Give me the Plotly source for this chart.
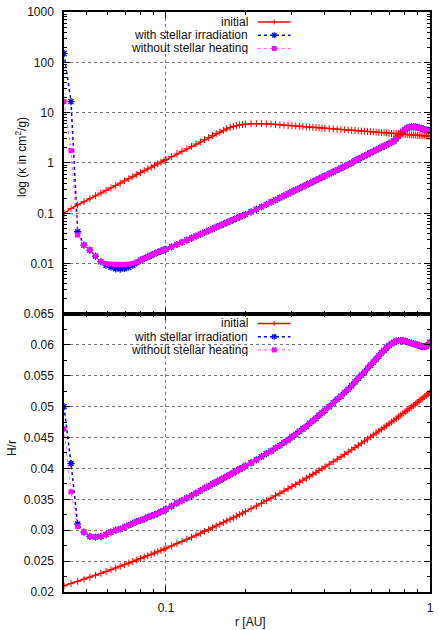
import plotly.graph_objects as go

# ---------------- data ----------------
R_AU = [0.0411, 0.0437, 0.0463, 0.0489, 0.0515, 0.0541, 0.0567, 0.0593, 0.0619, 0.0645,
        0.0671, 0.0697, 0.0723, 0.0749, 0.0775, 0.0801, 0.0827, 0.0853, 0.0879, 0.0905,
        0.0931, 0.0957, 0.0983,
        0.100, 0.105, 0.110, 0.115, 0.120, 0.125, 0.130, 0.135, 0.140, 0.145,
        0.150, 0.155, 0.160, 0.165, 0.170, 0.175, 0.180, 0.185, 0.190, 0.195,
        0.20, 0.21, 0.22, 0.23, 0.24, 0.25, 0.26, 0.27, 0.28, 0.29,
        0.30, 0.31, 0.32, 0.33, 0.34, 0.35, 0.36, 0.37, 0.38, 0.39,
        0.400, 0.415, 0.430, 0.445, 0.460, 0.475, 0.490, 0.505, 0.520, 0.535,
        0.550, 0.565, 0.580, 0.595, 0.610, 0.625, 0.640, 0.655, 0.670, 0.685,
        0.700, 0.715, 0.730, 0.745, 0.760, 0.775, 0.790, 0.805, 0.820, 0.835,
        0.850, 0.865, 0.880, 0.895, 0.910, 0.925, 0.940, 0.955, 0.970, 0.985, 1.000]

KAPPA_INITIAL = [0.100, 0.125, 0.146, 0.170, 0.195, 0.223, 0.253, 0.285, 0.320, 0.358,
                 0.398, 0.441, 0.487, 0.536, 0.588, 0.643, 0.700, 0.762, 0.826, 0.894,
                 0.965, 1.039, 1.117,
                 1.17, 1.335, 1.513, 1.706, 1.914, 2.137, 2.376, 2.631, 2.902, 3.19,
                 3.497, 3.82, 4.12, 4.45, 4.78, 5.08, 5.33, 5.53, 5.70, 5.82,
                 5.91, 6.00, 6.04, 6.04, 6.00, 5.93, 5.84, 5.73, 5.65, 5.57,
                 5.50, 5.42, 5.36, 5.29, 5.23, 5.17, 5.11, 5.05, 5.00, 4.95,
                 4.90, 4.83, 4.76, 4.69, 4.63, 4.57, 4.52, 4.46, 4.41, 4.36,
                 4.31, 4.27, 4.22, 4.18, 4.14, 4.10, 4.06, 4.02, 3.99, 3.95,
                 3.92, 3.88, 3.85, 3.82, 3.79, 3.76, 3.73, 3.70, 3.68, 3.65,
                 3.62, 3.60, 3.57, 3.55, 3.53, 3.50, 3.48, 3.46, 3.44, 3.42, 3.40]

KAPPA_IRRADIATION = [150.0, 16.6, 0.043, 0.0234, 0.0186, 0.0141, 0.0109, 0.0093, 0.0085, 0.0079,
                     0.0078, 0.0080, 0.0085, 0.0093, 0.0104, 0.0117, 0.0126, 0.0136, 0.0146, 0.0157,
                     0.0168, 0.0178, 0.0188,
                     0.0193, 0.0216, 0.0240, 0.0266, 0.0294, 0.0322, 0.0353, 0.0385, 0.0418, 0.0454,
                     0.0490, 0.0529, 0.0569, 0.0611, 0.0654, 0.0699, 0.0746, 0.0794, 0.0845, 0.0897,
                     0.0951, 0.107, 0.120, 0.135, 0.150, 0.167, 0.184, 0.203, 0.223, 0.244,
                     0.266, 0.289, 0.313, 0.339, 0.366, 0.394, 0.423, 0.454, 0.486, 0.519,
                     0.553, 0.608, 0.665, 0.726, 0.790, 0.858, 0.928, 1.003, 1.11, 1.20,
                     1.29, 1.38, 1.48, 1.59, 1.69, 1.81, 1.92, 2.05, 2.17, 2.30,
                     2.44, 2.58, 2.73, 3.05, 3.45, 3.90, 4.25, 4.60, 4.95, 5.10,
                     5.20, 5.24, 5.22, 5.15, 5.03, 4.88, 4.74, 4.62, 4.52, 4.45, 4.40]

KAPPA_NO_HEATING = [16.6, 1.76, 0.037, 0.0234, 0.0186, 0.0141, 0.0110, 0.0100, 0.0098, 0.0097,
                    0.0097, 0.0097, 0.0098, 0.0101, 0.0108, 0.0117, 0.0126, 0.0136, 0.0146, 0.0157,
                    0.0168, 0.0178, 0.0188,
                    0.0193, 0.0216, 0.0240, 0.0266, 0.0294, 0.0322, 0.0353, 0.0385, 0.0418, 0.0454,
                    0.0490, 0.0529, 0.0569, 0.0611, 0.0654, 0.0699, 0.0746, 0.0794, 0.0845, 0.0897,
                    0.0951, 0.107, 0.120, 0.135, 0.150, 0.167, 0.184, 0.203, 0.223, 0.244,
                    0.266, 0.289, 0.313, 0.339, 0.366, 0.394, 0.423, 0.454, 0.486, 0.519,
                    0.553, 0.608, 0.665, 0.726, 0.790, 0.858, 0.928, 1.003, 1.11, 1.20,
                    1.29, 1.38, 1.48, 1.59, 1.69, 1.81, 1.92, 2.05, 2.17, 2.30,
                    2.44, 2.58, 2.73, 3.05, 3.45, 3.90, 4.25, 4.60, 4.95, 5.10,
                    5.20, 5.24, 5.22, 5.15, 5.03, 4.88, 4.74, 4.62, 4.52, 4.45, 4.40]

HR_INITIAL = [0.0210, 0.02137, 0.02172, 0.02206, 0.02239, 0.02271, 0.02302, 0.02331, 0.02360, 0.02388,
              0.02415, 0.02442, 0.02467, 0.02493, 0.02517, 0.02541, 0.02564, 0.02587, 0.02609, 0.02631,
              0.02652, 0.02673, 0.02694,
              0.02707, 0.02745, 0.02782, 0.02817, 0.02852, 0.02885, 0.02918, 0.02950, 0.02981, 0.03010,
              0.03040, 0.03068, 0.03097, 0.03124, 0.03151, 0.03177, 0.03203, 0.03228, 0.03253, 0.03277,
              0.03301, 0.03347, 0.03392, 0.03435, 0.03477, 0.03518, 0.03558, 0.03597, 0.03634, 0.03671,
              0.03706, 0.03741, 0.03775, 0.03809, 0.03842, 0.03874, 0.03905, 0.03936, 0.03966, 0.03995,
              0.04024, 0.04067, 0.04108, 0.04149, 0.04189, 0.04227, 0.04265, 0.04302, 0.04338, 0.04373,
              0.04408, 0.04442, 0.04475, 0.04508, 0.04541, 0.04572, 0.04603, 0.04634, 0.04664, 0.04693,
              0.04723, 0.04751, 0.04780, 0.04807, 0.04835, 0.04862, 0.04889, 0.04916, 0.04941, 0.04967,
              0.04993, 0.05018, 0.05042, 0.05067, 0.05091, 0.05115, 0.05139, 0.05162, 0.05185, 0.05208, 0.0523]

HR_IRRADIATION = [0.0500, 0.0408, 0.0310, 0.0297, 0.0290, 0.0289, 0.0290, 0.0293, 0.0297, 0.0300,
                  0.0302, 0.0305, 0.0308, 0.0311, 0.0314, 0.0316, 0.0318, 0.0321, 0.0323, 0.0325,
                  0.0327, 0.0330, 0.0332,
                  0.0334, 0.0339, 0.0344, 0.0348, 0.0352, 0.0356, 0.0360, 0.0364, 0.0368, 0.0371,
                  0.0375, 0.0378, 0.0381, 0.0384, 0.0387, 0.0390, 0.0393, 0.0396, 0.0399, 0.0401,
                  0.0404, 0.0409, 0.0414, 0.0419, 0.0424, 0.0428, 0.0433, 0.0437, 0.0442, 0.0446,
                  0.0451, 0.0455, 0.0460, 0.0464, 0.0468, 0.0473, 0.0477, 0.0481, 0.0486, 0.0490,
                  0.0494, 0.0500, 0.0506, 0.0512, 0.0517, 0.0523, 0.0528, 0.0534, 0.0540, 0.0546,
                  0.0551, 0.0556, 0.0562, 0.0567, 0.0572, 0.0577, 0.0582, 0.0587, 0.0591, 0.0595,
                  0.0599, 0.0602, 0.0604, 0.0606, 0.0607, 0.0607, 0.0607, 0.0606, 0.0605, 0.0604,
                  0.0603, 0.0602, 0.0601, 0.0600, 0.0599, 0.0598, 0.0597, 0.0597, 0.0598, 0.0600, 0.0604]

HR_NO_HEATING = [0.0464, 0.0362, 0.0306, 0.0297, 0.0290, 0.0289, 0.0290, 0.0293, 0.0297, 0.0300,
                 0.0302, 0.0305, 0.0308, 0.0311, 0.0314, 0.0316, 0.0318, 0.0321, 0.0323, 0.0325,
                 0.0327, 0.0330, 0.0332,
                 0.0334, 0.0339, 0.0344, 0.0348, 0.0352, 0.0356, 0.0360, 0.0364, 0.0368, 0.0371,
                 0.0375, 0.0378, 0.0381, 0.0384, 0.0387, 0.0390, 0.0393, 0.0396, 0.0399, 0.0401,
                 0.0404, 0.0409, 0.0414, 0.0419, 0.0424, 0.0428, 0.0433, 0.0437, 0.0442, 0.0446,
                 0.0451, 0.0455, 0.0460, 0.0464, 0.0468, 0.0473, 0.0477, 0.0481, 0.0486, 0.0490,
                 0.0494, 0.0500, 0.0506, 0.0512, 0.0517, 0.0523, 0.0528, 0.0534, 0.0540, 0.0546,
                 0.0551, 0.0556, 0.0562, 0.0567, 0.0572, 0.0577, 0.0582, 0.0587, 0.0591, 0.0595,
                 0.0599, 0.0602, 0.0604, 0.0606, 0.0607, 0.0607, 0.0607, 0.0606, 0.0605, 0.0604,
                 0.0603, 0.0602, 0.0601, 0.0600, 0.0599, 0.0598, 0.0597, 0.0597, 0.0598, 0.0600, 0.0604]

SERIES_NAMES = ["initial", "with stellar irradiation", "without stellar heating"]

X_TICKS = [0.1, 1]
X_TICK_LABELS = ["0.1", "1"]
X_MINOR = [0.05, 0.06, 0.07, 0.08, 0.09, 0.2, 0.3, 0.4, 0.5, 0.6, 0.7, 0.8, 0.9]

KAPPA_TICKS = [0.01, 0.1, 1, 10, 100, 1000]
KAPPA_TICK_LABELS = ["0.01", "0.1", "1", "10", "100", "1000"]
KAPPA_MINOR = [m * d for d in (0.001, 0.01, 0.1, 1, 10, 100) for m in range(2, 10)]

HR_TICKS = [0.02, 0.025, 0.03, 0.035, 0.04, 0.045, 0.05, 0.055, 0.06, 0.065]
HR_TICK_LABELS = ["0.02", "0.025", "0.03", "0.035", "0.04", "0.045", "0.05", "0.055", "0.06", "0.065"]
HR_MINOR = [0.0225, 0.0275, 0.0325, 0.0375, 0.0425, 0.0475, 0.0525, 0.0575, 0.0625]

# ---------------- styling ----------------
W, H = 439, 630
ML, MR, MT, MB = 64, 5, 10, 38
PW, PH = W - ML - MR, H - MT - MB
SPLIT = 279 / PH

FONT = dict(family="Liberation Sans, Arial, sans-serif", size=12, color="#111111")
RED, BLUE, MAG = "#ff0000", "#0000ff", "#ff00ff"

STYLES = [
    dict(line=dict(color=RED, width=1.5),
         marker=dict(symbol="cross-thin-open", size=5, color=RED, line=dict(color=RED, width=1.0))),
    dict(line=dict(color=BLUE, width=1.5, dash="dot"),
         marker=dict(symbol="asterisk-open", size=6, color=BLUE, line=dict(color=BLUE, width=1.3))),
    dict(line=dict(color="#ff55ff", width=1.0, dash="dot"),
         marker=dict(symbol="square", size=5, color=MAG, line=dict(width=0))),
]


def px(x):
    return (x - ML) / PW


def py(y):
    return (H - MB - y) / PH


fig = go.Figure()

panels = [
    ("x2", "y2", [KAPPA_INITIAL, KAPPA_IRRADIATION, KAPPA_NO_HEATING]),
    ("x", "y", [HR_INITIAL, HR_IRRADIATION, HR_NO_HEATING]),
]
draw_order = [1, 2, 0]
for xa, ya, vals in panels:
    for i in draw_order:
        fig.add_trace(go.Scatter(x=R_AU, y=vals[i], mode="lines+markers", name=SERIES_NAMES[i],
                                 xaxis=xa, yaxis=ya, showlegend=False, cliponaxis=True,
                                 **STYLES[i]))

axis_common = dict(showline=True, linecolor="black", linewidth=1.5, mirror="allticks",
                   ticks="inside", ticklen=6, tickwidth=1, tickcolor="black",
                   showgrid=True, gridcolor="#777777", griddash="dot", gridwidth=1,
                   zeroline=False, tickfont=FONT, tickmode="array")
minor_common = dict(ticks="inside", ticklen=3, tickwidth=1, tickcolor="black", showgrid=False)

xr = [-1.3862, 0]
fig.update_layout(
    width=W, height=H, margin=dict(l=ML, r=MR, t=MT, b=MB),
    paper_bgcolor="white", plot_bgcolor="white", font=FONT, showlegend=False,
    xaxis=dict(axis_common, type="log", range=xr, tickvals=X_TICKS, ticktext=X_TICK_LABELS,
               minor=dict(minor_common, tickvals=X_MINOR), anchor="y", domain=[0, 1],
               ticklabelstandoff=4),
    xaxis2=dict(axis_common, type="log", range=xr, tickvals=X_TICKS, ticktext=X_TICK_LABELS,
                minor=dict(minor_common, tickvals=X_MINOR), anchor="y2", domain=[0, 1],
                showticklabels=False, matches="x"),
    yaxis=dict(axis_common, range=[0.02, 0.065], tickvals=HR_TICKS, ticktext=HR_TICK_LABELS,
               minor=dict(minor_common, tickvals=HR_MINOR), domain=[0, SPLIT], anchor="x",
               ticklabelstandoff=6),
    yaxis2=dict(axis_common, type="log", range=[-3, 3], tickvals=KAPPA_TICKS,
                ticktext=KAPPA_TICK_LABELS, minor=dict(minor_common, tickvals=KAPPA_MINOR),
                domain=[SPLIT, 1], anchor="x2", ticklabelstandoff=6),
)

annotations = [
    dict(text="log (κ in cm<sup>2</sup>/g)", x=px(20), y=py(155), textangle=-90),
    dict(text="H/r", x=px(12), y=py(448), textangle=-90),
    dict(text="r [AU]", x=px(253), y=py(622)),
]
for a in annotations:
    fig.add_annotation(xref="paper", yref="paper", showarrow=False, font=FONT,
                       xanchor="center", yanchor="middle", **a)

# gnuplot-style key: right-aligned text, sample line to the right
LEGEND_ROWS = {"top": [20.0, 33.3, 46.6], "bottom": [322.5, 335.8, 349.1]}
x_text, x0, x1 = 252, 260, 293
xc = (x0 + x1) / 2
shapes = []
for rows in LEGEND_ROWS.values():
    for i, yr in enumerate(rows):
        fig.add_annotation(xref="paper", yref="paper", showarrow=False, font=FONT,
                           text=SERIES_NAMES[i], x=px(x_text), y=py(yr), height=12,
                           xanchor="right", yanchor="middle")
        ln = STYLES[i]["line"]
        shapes.append(dict(type="line", xref="paper", yref="paper", x0=px(x0), x1=px(x1),
                           y0=py(yr), y1=py(yr),
                           line=dict(color=ln["color"], width=ln["width"], dash=ln.get("dash", "solid"))))
        if i == 0:
            shapes.append(dict(type="line", xref="paper", yref="paper", x0=px(xc), x1=px(xc),
                               y0=py(yr - 2.5), y1=py(yr + 2.5), line=dict(color=RED, width=1.0)))
        elif i == 1:
            for dx, dy in [(0, 3), (3, 0), (2.2, 2.2), (2.2, -2.2)]:
                shapes.append(dict(type="line", xref="paper", yref="paper",
                                   x0=px(xc - dx), x1=px(xc + dx), y0=py(yr - dy), y1=py(yr + dy),
                                   line=dict(color=BLUE, width=1.3)))
        else:
            shapes.append(dict(type="rect", xref="paper", yref="paper",
                               x0=px(xc - 2.5), x1=px(xc + 2.5), y0=py(yr + 2.5), y1=py(yr - 2.5),
                               fillcolor=MAG, line=dict(width=0)))
fig.update_layout(shapes=shapes)

fig.write_html("out.html", config={"displayModeBar": False},
               post_script="document.body.style.margin='0';document.body.style.overflow='hidden';")
